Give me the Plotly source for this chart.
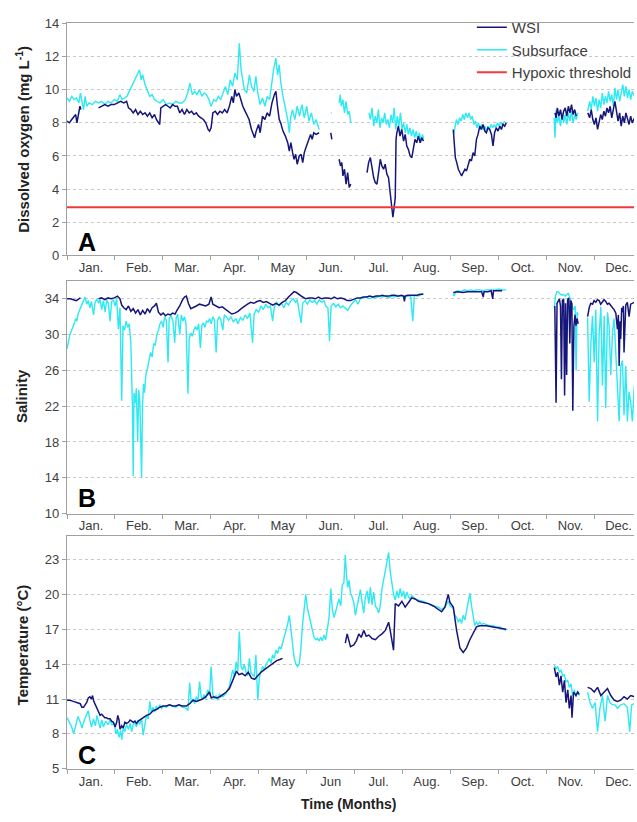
import plotly.graph_objects as go

# ---------------- data (day of year, value); None = gap in record ----------------
MONTHS_A = ["Jan.", "Feb.", "Mar.", "Apr.", "May", "Jun.", "Jul.", "Aug.", "Sep.", "Oct.", "Nov.", "Dec."]
MONTHS_B = ["Jan.", "Feb.", "Mar.", "Apr.", "May", "Jun.", "Jul.", "Aug.", "Sep.", "Oct.", "Nov.", "Dec."]
MONTHS_C = ["Jan.", "Feb.", "Mar.", "Apr.", "May", "Jun", "Jul.", "Aug.", "Sep.", "Oct.", "Nov.", "Dec."]
HYPOXIC = 2.9

DO_SUB = [
    (0, 9.5), (1.5, 9.3), (3, 9.6), (4.5, 9.4), (6, 9.5), (7.5, 9.2), (8.5, 9.8), (9.5, 9.3), (10.5, 8.8),
    (11.5, 9.6), (12.5, 9.0), (14, 9.2), (16, 9.1), (18, 9.3), (20, 9.2), (22, 9.3), (24, 9.1), (26, 9.3),
    (28, 9.2), (30, 9.4), (32, 9.3), (33.5, 9.7), (35, 9.4), (36.5, 9.5), (38, 9.6), (39.5, 9.9), (41, 10.2),
    (42.5, 10.5), (44, 10.7), (45, 10.9), (46, 11.2), (47, 10.6), (48, 10.9), (49.5, 10.3), (51, 10.0),
    (52.5, 9.6), (54, 9.7), (55.5, 9.4), (57, 9.3), (59, 9.2), (61, 9.4), (63, 9.1), (65, 9.2), (67, 9.1),
    (69, 9.3), (71, 9.2), (73, 9.2), (75, 9.4), (76.5, 9.8), (78, 10.4), (79.5, 9.7), (81, 9.9), (82.5, 9.7),
    (84, 10.0), (85.5, 9.6), (87, 9.8), (88.5, 9.7), (90, 9.4), (91.4, 9.0), (93, 9.4), (94.5, 9.3),
    (96, 9.6), (97.5, 9.4), (99, 9.8), (100.5, 10.2), (102, 9.7), (103.5, 10.6), (105, 10.2), (106.5, 11.0),
    (108, 10.6), (109.3, 12.8), (110.4, 11.2), (111.5, 10.4), (112.5, 10.0), (114, 9.8), (115.7, 10.9),
    (117, 10.2), (118.5, 9.9), (119.8, 10.8), (121, 9.8), (122.5, 9.1), (124, 9.5), (125.5, 9.0),
    (127, 9.6), (128.5, 9.4), (130, 10.5), (131, 11.2), (132.5, 11.9), (133.5, 10.9), (134.6, 11.5),
    (135.5, 10.5), (137, 9.6), (138.5, 8.8), (140, 8.2), (141, 7.4), (142, 8.4), (143, 8.8), (144.5, 8.2),
    (146, 9.0), (147.5, 8.4), (149, 9.1), (150.5, 8.3), (152, 9.0), (153.5, 8.1), (155, 8.6), (156.5, 7.9),
    (158, 8.2), (159.9, 7.6),
    (163, None),
    (167.3, 8.6), (167.9, 8.6),
    (170, None),
    (172.6, 9.2), (173.3, 9.7), (174, 9.0), (175, 9.4), (176, 8.6), (177, 9.3), (178, 8.5), (179, 8.7), (180, 8.0),
    (185, None),
    (191.5, 8.6), (192.5, 8.2), (193.5, 8.9), (194.5, 7.8), (195.5, 8.4), (196.5, 8.0), (197.5, 8.8),
    (198.5, 7.7), (199.5, 8.3), (200.5, 8.0), (201.5, 8.6), (202.5, 7.9), (203.5, 8.2), (204.5, 7.7),
    (205.5, 8.5), (206.5, 8.0), (207.5, 8.9), (208.5, 7.6), (209.5, 8.4), (210.5, 7.8), (211.5, 8.6),
    (212.5, 7.6), (213.5, 8.0), (214.5, 7.4), (215.5, 7.9), (216.5, 7.3), (217.5, 7.7), (218.5, 7.2),
    (219.5, 7.6), (220.5, 7.1), (221.5, 7.5), (222.5, 7.0), (223.5, 7.4), (224.5, 6.9), (225.5, 7.3), (226.2, 7.0),
    (235, None),
    (245.2, 7.3), (246, 7.8), (247, 8.2), (248, 7.9), (249, 8.3), (250, 8.1), (251, 8.5), (252, 8.2),
    (253, 8.6), (254, 8.3), (255, 8.6), (256, 8.2), (257, 8.4), (258, 7.9), (259, 8.1), (260, 7.7),
    (261, 8.0), (262, 7.6), (263, 7.9), (264, 7.6), (265, 7.8), (266, 7.5), (267, 7.8), (268, 7.6),
    (269, 7.9), (270, 7.7), (271, 7.9), (272, 7.7), (273, 8.0), (274, 7.8), (275, 8.0), (276, 7.9), (277.8, 8.1),
    (290, None),
    (309, 8.3), (309.5, 7.1), (310.2, 8.8), (311, 8.0), (312, 8.4), (313, 7.8), (314, 8.6), (315, 8.0),
    (316, 8.5), (317, 7.9), (318, 8.6), (319, 8.1), (320, 8.7), (321, 8.0), (322, 8.5), (323, 8.2), (324, 8.6),
    (327, None),
    (330.3, 8.7), (331.5, 9.3), (332.5, 8.8), (333.5, 9.6), (334.5, 9.0), (335.5, 9.5), (336.5, 8.7),
    (337.5, 9.4), (338.5, 8.9), (339.5, 9.8), (340.5, 9.1), (341.5, 9.6), (342.5, 9.2), (343.5, 9.9),
    (344.5, 9.3), (345.5, 9.7), (346.5, 9.0), (347.5, 10.1), (348.5, 9.4), (349.5, 10.0), (350.5, 9.3),
    (351.5, 9.8), (352.5, 10.3), (353.5, 9.6), (354.5, 10.2), (355.5, 9.5), (356.5, 10.0), (357.5, 9.4),
    (358.5, 9.9), (360, 9.6),
]

DO_WSI = [
    (0, 8.1), (1.5, 8.0), (3, 8.2), (4.5, 8.4), (5.5, 8.5), (6.3, 8.0), (7.2, 8.6), (8.2, 9.0), (8.8, 8.8),
    (14, None),
    (20, 8.9), (22, 9.0), (24, 9.1), (26, 9.0), (28, 9.1), (30, 9.1), (32, 9.2), (34, 9.3), (36, 9.2),
    (37.8, 9.3), (39, 8.9), (40.5, 8.8), (42, 8.6), (43.5, 8.8), (45, 8.5), (46.5, 8.7), (48, 8.5),
    (49.5, 8.6), (51, 8.4), (52.5, 8.6), (54, 8.3), (55.5, 8.5), (56.7, 8.2), (58, 8.0), (58.8, 7.9),
    (59.5, 8.9), (61, 9.0), (62.5, 9.1), (64, 9.0), (65.5, 8.9), (67, 9.1), (68.5, 9.0), (70, 9.0),
    (71.5, 8.6), (73, 8.8), (74.5, 8.5), (76, 8.8), (77.5, 8.6), (79, 8.7), (80.5, 8.5), (82, 8.6),
    (83.5, 8.4), (85, 8.3), (86.5, 8.2), (88, 8.0), (89.5, 7.6), (90.4, 7.5), (91.4, 7.7), (92.5, 8.6),
    (94, 8.7), (95.5, 8.5), (97, 8.7), (98.5, 8.6), (100, 8.8), (101.5, 8.6), (103, 9.0), (104.5, 9.6),
    (105.5, 9.2), (106.5, 10.0), (107.5, 9.6), (109, 9.8), (110.5, 9.3), (111.5, 9.0), (112.5, 8.8),
    (114, 8.5), (115.5, 8.2), (117, 7.6), (118, 7.4), (119, 7.1), (120, 7.5), (121.5, 7.9), (122.5, 7.4),
    (124, 8.4), (125.5, 8.2), (127, 8.6), (128.5, 8.4), (130, 9.2), (131.5, 9.7), (132.5, 9.9), (133.5, 9.0),
    (134.6, 8.2), (135.5, 8.0), (137, 7.5), (138.5, 7.2), (140, 6.8), (141, 6.3), (142, 6.8), (143.1, 6.2),
    (144, 5.8), (145, 6.1), (146, 5.5), (147.3, 6.0), (148.5, 6.1), (149.5, 5.6), (150.5, 6.2), (151.5, 6.5),
    (152.5, 6.8), (153.5, 7.1), (154.5, 7.3), (155.5, 7.0), (156.5, 7.4), (158, 7.3), (159.9, 7.4),
    (163, None),
    (167.3, 7.4), (168, 7.0),
    (170, None),
    (172.6, 5.8), (173.5, 5.4), (174.3, 5.6), (175, 4.8), (176, 5.2), (177, 4.3), (178, 5.0), (179, 4.1), (180, 4.3),
    (185, None),
    (190.3, 5.0), (191.3, 5.6), (192.4, 5.9), (193.4, 5.2), (194.5, 4.7), (195.5, 4.4), (196.6, 4.3),
    (197.6, 5.0), (198.7, 5.8), (199.7, 5.4), (200.8, 5.2), (201.8, 5.5), (202.9, 4.9), (203.9, 4.7),
    (205, 3.6), (206, 2.8), (206.7, 2.3), (207.5, 2.9), (208.2, 3.5), (208.7, 7.0), (209.2, 7.4),
    (210.2, 7.8), (211.2, 7.2), (212.3, 7.6), (213.5, 6.9), (214.5, 7.3), (215.5, 6.6), (216.5, 6.4),
    (217.6, 6.0), (218.7, 5.9), (219.7, 6.6), (220.7, 7.0), (221.8, 6.8), (222.9, 7.2), (224, 6.8),
    (225, 7.1), (226.1, 6.9),
    (235, None),
    (245, 7.6), (245.6, 6.6), (246.3, 5.9), (247.2, 5.6), (248.2, 5.2), (249.2, 5.0), (250.3, 4.8),
    (251.3, 5.0), (252.4, 5.2), (253.4, 5.1), (254.5, 5.5), (255.5, 5.8), (256.5, 5.7), (257.6, 6.2),
    (258.6, 6.0), (259.7, 7.0), (260.7, 7.3), (261.8, 7.8), (262.8, 7.6), (263.9, 7.9), (265, 7.5),
    (266, 7.4), (267, 7.7), (268.1, 7.6), (269.2, 7.3), (270.2, 6.6), (271.2, 7.4), (272.3, 7.7),
    (273.4, 7.5), (274.5, 7.8), (275.5, 7.6), (276.5, 7.9), (277.6, 7.8), (278.6, 8.0),
    (290, None),
    (309.5, 8.6), (310.2, 8.3), (311, 8.9), (312, 8.4), (313, 8.8), (314, 8.2), (315, 8.7), (316, 8.9),
    (317, 8.4), (318, 9.0), (319, 8.6), (320, 9.1), (321, 8.5), (322, 8.8), (323, 8.4),
    (327, None),
    (330.3, 8.6), (331.5, 8.3), (332.5, 8.8), (333.5, 8.2), (334.5, 7.9), (335.5, 8.3), (336.5, 7.6),
    (337.5, 8.0), (338.5, 8.5), (339.5, 8.2), (340.5, 8.7), (341.5, 8.4), (342.5, 8.9), (343.5, 8.6),
    (344.5, 9.0), (345.5, 8.3), (346.5, 8.8), (347.5, 9.3), (348.5, 8.7), (349.5, 8.1), (350.5, 8.6),
    (351.5, 7.8), (352.5, 8.4), (353.5, 8.0), (354.5, 8.6), (355.5, 8.2), (356.5, 7.9), (357.5, 8.4),
    (358.5, 8.0), (360, 8.3),
]

SAL_SUB = [
    (0, 28.4), (0.8, 29.3), (1.6, 29.8), (2.5, 30.3), (3.5, 30.7), (4.5, 31.2), (5.5, 31.8), (6.3, 31.5),
    (7, 32.3), (8, 32.8), (9, 33.1), (10, 33.6), (11.5, 34.2), (12.5, 33.4), (13.5, 33.8), (14.5, 33.0),
    (15.5, 33.7), (16.8, 32.2), (17.8, 33.6), (19, 34.0), (20, 33.5), (21, 33.9), (22, 32.8), (23.1, 33.8),
    (24.2, 32.5), (25.2, 33.9), (26.2, 33.5), (27.3, 31.5), (28.3, 33.7), (29.4, 33.9), (30.5, 33.2),
    (31.5, 34.0), (32.6, 30.6), (33.6, 33.0), (34.7, 22.6), (35.5, 31.0), (36.5, 30.5), (37.5, 31.5),
    (38.5, 30.8), (39.5, 31.2), (40.5, 29.0), (41, 26.0), (41.5, 22.0), (42, 14.2), (42.5, 23.5),
    (43.2, 22.3), (44, 24.0), (44.8, 18.0), (45.5, 23.8), (46.2, 22.5), (47.3, 14.0), (47.9, 22.0),
    (48.5, 24.5), (49.2, 23.5), (50, 25.5), (51, 26.2), (52, 27.3), (53, 28.0), (54, 27.5), (55, 29.0),
    (56, 28.8), (57, 30.0), (58, 30.5), (59, 31.2), (60, 31.5), (61, 30.8), (62, 32.0), (63, 31.6),
    (64.1, 26.9), (64.8, 31.8), (66, 32.1), (67.2, 31.5), (68.3, 29.1), (69.2, 31.8), (70.2, 32.3),
    (71.5, 30.0), (72.5, 32.2), (73.5, 31.5), (74.5, 32.0), (75.5, 31.2), (76.7, 23.4), (77.5, 29.5),
    (78.5, 30.2), (79.5, 29.8), (80.5, 30.5), (81.5, 30.9), (82.5, 30.5), (83.5, 31.2), (84.6, 28.5),
    (85.5, 31.0), (86.5, 31.3), (87.5, 30.8), (88.5, 31.5), (89.5, 31.4), (90.5, 31.8), (91.5, 31.2),
    (92.5, 32.0), (93.5, 31.6), (94.6, 28.0), (95.5, 31.6), (96.5, 32.0), (97.5, 31.7), (98.8, 30.5),
    (99.8, 32.2), (101, 32.0), (102.5, 31.6), (104, 32.0), (105.5, 31.4), (107, 31.8), (108.5, 31.2),
    (110, 31.9), (111.5, 31.6), (113, 32.2), (114.5, 31.8), (116, 32.4), (117.7, 29.1), (118.7, 32.3),
    (120, 32.8), (121.5, 32.5), (123, 33.2), (124.5, 32.8), (126, 33.4), (127.5, 33.0), (129, 33.2),
    (130.4, 31.5), (131.5, 33.1), (133, 33.6), (134.5, 33.2), (136, 33.5), (137.5, 33.0), (139, 33.6),
    (140.5, 33.3), (142, 33.8), (143.5, 34.0), (145, 33.6), (146, 33.9), (147.3, 32.5), (148.5, 31.3),
    (149.5, 33.5), (151, 33.8), (152.5, 33.4), (154, 33.9), (155.5, 33.6), (157, 33.8), (158.5, 33.4),
    (160, 33.9), (161.5, 33.6), (163, 33.8), (164.1, 33.2), (165.5, 33.0), (166.5, 29.3), (167.5, 33.2),
    (169, 33.5), (170.5, 33.1), (172, 33.4), (173.5, 33.0), (175, 33.2), (176.5, 32.9), (178, 32.7),
    (180, 33.3), (181.5, 33.6), (183, 33.9), (184.5, 33.4), (186, 34.0), (188, 34.1), (190, 34.2),
    (192, 34.0), (194, 34.2), (196, 34.1), (198, 34.3), (200, 34.2), (202, 34.3), (204, 34.1), (206, 34.3),
    (208, 34.2), (210, 34.4), (212, 34.3), (214, 34.2), (216, 34.3), (218, 34.3), (219.3, 31.5),
    (220.3, 34.4), (222, 34.3), (224, 34.4), (226, 34.6),
    (235, None),
    (245, 34.6), (245.5, 34.3), (246.5, 34.8), (248, 34.9), (250, 34.8), (252, 35.0), (254, 34.9),
    (256, 35.0), (258, 34.9), (260, 35.0), (262, 35.0), (264, 34.9), (266, 35.0), (268, 35.0), (270, 35.0),
    (272, 35.0), (274, 35.1), (276, 35.0), (278.6, 35.0),
    (290, None),
    (309.1, 33.0), (309.8, 34.3), (310.7, 34.8), (311.5, 34.8), (312.3, 34.6), (313.2, 34.5), (314, 34.4),
    (315, 34.5), (316, 34.3), (317, 34.5), (318, 34.6), (318.8, 34.2), (319.7, 33.5), (320.7, 33.0),
    (321.5, 32.8), (322.3, 33.2), (322.9, 26.0), (323.5, 32.5), (324.2, 32.2),
    (327, None),
    (330.2, 31.9), (331.2, 22.5), (332.3, 29.1), (333.3, 32.1), (334.4, 26.9), (335.4, 32.8), (336.5, 20.3),
    (337.5, 30.0), (338.6, 33.1), (339.6, 24.3), (340.7, 32.1), (341.7, 21.8), (342.8, 32.5), (343.8, 31.0),
    (344.9, 25.5), (346, 30.3), (347, 31.8), (348.1, 27.7), (349.1, 22.9), (350.2, 20.3), (351.2, 26.4),
    (352.3, 27.1), (353.3, 21.0), (354.4, 26.5), (355.4, 20.3), (356.5, 23.6), (357.5, 22.5), (358.6, 20.3),
    (359.8, 24.3),
]

SAL_WSI = [
    (0, 34.0), (2, 34.0), (4, 33.9), (6, 33.8), (7.5, 34.0), (8.5, 34.1),
    (14, None),
    (20, 34.0), (22, 34.1), (24, 33.9), (26, 34.1), (28, 34.0), (30, 34.1), (32, 34.3), (33.6, 34.0),
    (34.7, 33.3), (36, 33.0), (37.5, 32.8), (39, 33.2), (40.5, 32.6), (42, 32.9), (43.5, 32.4), (45, 32.8),
    (46.5, 32.2), (48, 32.7), (49.5, 32.3), (51, 32.9), (52.5, 32.5), (54, 33.0), (55.5, 33.2), (56.7, 33.5),
    (58, 32.5), (59.5, 32.2), (61, 32.4), (62.5, 32.1), (64, 32.3), (65.5, 32.2), (67, 32.4), (68.5, 32.3),
    (70, 32.8), (71.5, 33.2), (73, 33.8), (74.5, 34.2), (75.7, 34.3), (77, 33.5), (78.5, 32.9), (80, 33.0),
    (82, 33.2), (84, 33.4), (86, 33.3), (88, 33.2), (90, 33.4), (91.4, 34.2), (92.5, 33.4), (94.5, 33.2),
    (96.5, 33.0), (98.5, 33.1), (100.5, 32.8), (102.5, 32.5), (104.5, 32.3), (106.5, 32.4), (108.5, 32.6),
    (110.5, 32.9), (112.5, 33.2), (114.5, 33.4), (116.5, 33.6), (118.5, 33.5), (120.5, 33.7), (122.5, 33.8),
    (124.5, 33.6), (126.5, 33.7), (128.5, 33.5), (130.5, 33.3), (132.5, 33.5), (134.5, 33.3), (136.5, 33.6),
    (138.5, 33.8), (140.5, 34.2), (142.5, 34.6), (144, 34.8), (145.5, 34.7), (147.5, 34.4), (149.5, 34.2),
    (151.5, 34.0), (153.5, 34.1), (155.5, 34.1), (157.5, 34.0), (159.5, 34.2), (161.5, 34.0), (163.5, 34.1),
    (165.5, 34.1), (167.5, 34.0), (169.5, 34.2), (171.5, 34.0), (173.5, 34.1), (175.6, 34.0), (177.7, 33.8),
    (179.8, 33.8), (182, 34.0), (184, 34.1), (186, 34.1), (188, 34.2), (190, 34.2), (192, 34.3), (194, 34.2),
    (196, 34.3), (198, 34.3), (200, 34.4), (202, 34.3), (204, 34.3), (206, 34.4), (208, 34.4), (210, 34.3),
    (212, 34.4), (213.5, 34.3), (214, 33.7), (214.5, 34.3), (216, 34.4), (218, 34.4), (220, 34.4),
    (222, 34.4), (224, 34.5), (226, 34.5),
    (235, None),
    (245, 34.7), (248, 34.8), (251, 34.7), (254, 34.8), (257, 34.8), (260, 34.8), (263, 34.8), (264, 34.2),
    (264.5, 34.8), (267, 34.8), (269, 34.9), (270, 34.0), (270.5, 34.9), (273, 34.9), (276, 34.9),
    (290, None),
    (309.4, 33.2), (310.2, 22.4), (310.8, 33.5), (311.6, 33.9), (312.3, 34.0), (313, 33.2), (313.6, 25.0),
    (314.2, 33.8), (315, 34.0), (315.6, 23.2), (316.2, 33.5), (316.9, 25.5), (317.5, 33.9), (318.3, 34.1),
    (318.9, 29.0), (319.5, 33.8), (320.2, 33.5), (320.8, 21.5), (321.5, 31.0), (322.2, 32.2), (322.8, 31.0),
    (323.5, 31.8), (324.2, 31.2),
    (327, None),
    (330.2, 32.0), (331.2, 33.0), (332.2, 33.5), (333.3, 33.4), (334.3, 33.8), (335.4, 33.6), (336.4, 33.9),
    (337.5, 33.8), (338.5, 33.4), (339.6, 33.6), (340.6, 33.9), (341.7, 33.7), (342.7, 33.4), (343.8, 33.5),
    (344.9, 33.2), (346, 33.0), (347, 32.8), (348.1, 32.4), (349.1, 30.6), (349.7, 32.2), (350.2, 26.5),
    (350.8, 31.5), (351.2, 29.5), (351.8, 33.0), (352.3, 32.5), (352.9, 33.2), (353.3, 28.0), (353.9, 32.8),
    (354.4, 33.3), (355.4, 33.6), (356.5, 32.0), (357.5, 33.4), (358.6, 33.5), (359.8, 33.6),
]

TEMP_SUB = [
    (0, 9.4), (1.5, 9.0), (3, 8.6), (4.2, 8.0), (5.5, 8.8), (7, 9.5), (8.4, 9.0), (9.5, 8.5), (11, 9.2),
    (12.5, 9.6), (13.5, 10.0), (14.5, 9.2), (15.5, 8.6), (16.8, 9.3), (18, 8.7), (19, 9.6), (20, 9.0),
    (21, 8.5), (22, 9.2), (23.1, 8.6), (24.5, 9.1), (26, 8.8), (27.3, 9.2), (28.5, 8.8), (30, 8.9),
    (31, 8.0), (32, 8.4), (33, 7.7), (34, 8.3), (34.7, 7.5), (35.7, 8.5), (36.7, 8.2), (37.8, 8.8),
    (39, 8.4), (40, 8.9), (41, 8.2), (42, 8.8), (43, 9.0), (44.1, 8.6), (45, 9.2), (46, 8.8), (47.3, 9.3),
    (48.3, 7.9), (49.4, 9.0), (50.4, 9.6), (51.5, 9.3), (52.5, 10.8), (53.5, 9.9), (54.6, 10.3), (55.6, 9.9),
    (56.7, 10.4), (57.8, 10.1), (58.8, 10.5), (60, 10.2), (61, 10.4), (63, 10.3), (65, 10.5), (67, 10.4),
    (69, 10.3), (71, 10.5), (73, 10.3), (75.7, 10.2), (76.7, 10.0), (77.8, 12.4), (78.8, 10.7), (79.9, 11.0),
    (81, 10.6), (82, 11.2), (83, 10.8), (84.1, 12.5), (85.1, 11.2), (86, 11.0), (87, 11.4), (88, 11.0),
    (89.3, 11.8), (90.4, 11.3), (91.4, 13.8), (92.5, 11.4), (93.5, 11.0), (94.6, 11.3), (95.6, 10.9),
    (96.7, 11.4), (98.8, 11.2), (100.9, 11.5), (102, 11.9), (103, 12.1), (104, 12.8), (105.1, 13.5),
    (106.2, 12.9), (107.3, 14.2), (108.3, 13.4), (109.3, 16.8), (110.4, 13.8), (111.4, 13.5), (112.5, 14.0),
    (113.5, 13.3), (114.6, 13.0), (115.7, 14.5), (116.7, 13.2), (117.7, 13.1), (118.8, 12.9), (119.8, 14.8),
    (121, 10.9), (122, 12.8), (123, 13.4), (124.1, 13.8), (125.2, 13.5), (126.2, 14.0), (127.3, 14.2),
    (128.3, 14.5), (129.4, 14.1), (130.4, 14.8), (131.5, 14.5), (132.5, 15.2), (133.6, 14.9), (134.6, 15.5),
    (135.7, 15.3), (136.7, 15.8), (137.8, 16.4), (138.8, 17.0), (139.9, 17.4), (141, 18.2), (142, 16.8),
    (143.1, 15.6), (144.1, 14.5), (145.2, 14.0), (146.2, 13.8), (147.3, 14.0), (148.3, 15.3), (149.4, 17.4),
    (150.4, 19.0), (151.4, 20.0), (152.5, 18.8), (153.5, 18.2), (154.6, 17.5), (155.7, 16.7), (156.7, 16.3),
    (157.8, 16.1), (158.9, 16.2), (159.9, 16.0), (160.9, 16.3), (162, 16.0), (163, 16.5), (164.1, 16.1),
    (165.1, 17.2), (166.2, 18.0), (167.3, 20.5), (168.3, 18.7), (169.4, 18.0), (170.4, 18.5), (171.5, 19.0),
    (172.5, 19.6), (173.6, 19.0), (174.6, 20.8), (175.6, 21.0), (176.5, 23.4), (177.2, 21.8), (178, 20.6),
    (178.9, 21.2), (179.8, 20.1), (180.8, 19.8), (181.9, 19.3), (182.9, 18.2), (184, 18.9), (185.1, 19.8),
    (186.1, 20.4), (187.2, 19.3), (188.2, 18.4), (189.2, 19.7), (190.3, 20.3), (191.4, 19.2), (192.4, 20.6),
    (193.5, 19.1), (194.5, 20.2), (195.6, 19.0), (196.6, 18.8), (197.7, 18.4), (198.7, 19.0), (199.8, 20.5),
    (200.8, 21.3), (201.9, 22.2), (202.9, 23.0), (204, 23.6), (205, 22.0), (206.1, 20.8), (207.1, 20.0),
    (208.2, 19.5), (209.2, 20.3), (210.3, 19.7), (211.3, 20.5), (212.4, 19.8), (213.4, 20.3), (214.5, 19.6),
    (215.5, 20.2), (216.6, 19.8), (217.6, 19.6), (218.7, 19.9), (220.8, 19.6), (222.9, 19.5), (226.1, 19.4),
    (229.2, 19.2), (232.4, 19.0), (235.5, 18.9), (237.6, 18.7), (239.7, 18.9), (241.8, 19.4), (243, 19.0),
    (245, 18.8), (246, 18.2), (247.1, 18.0), (248.2, 17.6), (249.2, 17.9), (250.3, 17.5), (251.3, 18.2),
    (252.4, 17.8), (253.4, 18.6), (254.5, 19.2), (255.5, 20.1), (256.6, 19.0), (257.6, 18.0), (258.6, 17.3),
    (259.7, 17.6), (260.7, 17.4), (261.8, 17.6), (263, 17.4), (264, 17.5), (266, 17.4), (268, 17.3),
    (270.2, 17.3), (272, 17.2), (274.4, 17.2), (276.5, 17.0), (278.6, 16.9),
    (290, None),
    (309.1, 13.9), (310.2, 13.6), (311.2, 13.8), (312.3, 13.3), (313.3, 13.5), (314.4, 13.0), (315.5, 13.1),
    (316.5, 12.5), (317.6, 12.6), (318.6, 12.0), (319.7, 12.3), (320.7, 11.3), (321.8, 11.8), (322.8, 11.2),
    (323.9, 11.7), (324.9, 11.3),
    (327, None),
    (330.2, 11.6), (331.7, 10.7), (333.3, 10.2), (335, 10.7), (336.5, 8.2), (338, 10.2), (339.6, 11.3),
    (341.3, 9.1), (342.8, 11.3), (344.3, 10.7), (346, 10.5), (347.6, 10.5), (349.1, 10.2), (351.2, 10.5),
    (353.3, 10.6), (355.4, 10.3), (356.9, 8.2), (358.1, 10.5), (359.8, 10.6),
]

TEMP_WSI = [
    (0, 10.9), (2, 10.9), (4, 10.8), (6, 10.7), (8.4, 10.6), (9.4, 10.3), (10.5, 10.3), (11.5, 10.5),
    (12.5, 10.7), (13.5, 11.1), (14.5, 11.2), (15.5, 11.0), (16.2, 11.3), (17, 10.8), (18, 10.5), (19, 10.1),
    (20, 9.8), (21, 9.6), (22, 9.7), (23.1, 9.5), (24, 9.4), (25, 9.4), (26, 9.3), (27.3, 9.3), (28.3, 9.1),
    (29.4, 9.0), (30.5, 8.6), (31.5, 9.0), (32.2, 9.6), (33, 9.2), (33.6, 8.4), (34.7, 8.7), (35.7, 8.5),
    (36.7, 9.0), (37.8, 8.9), (39, 9.0), (40, 9.2), (41, 9.1), (42, 9.0), (43.1, 9.1), (44.1, 8.9),
    (45.2, 9.1), (46.2, 9.2), (47.3, 9.3), (48.3, 9.4), (50.4, 9.6), (52.5, 9.7), (54.6, 10.0), (56.7, 10.1),
    (58.8, 10.3), (61, 10.4), (63, 10.4), (65, 10.5), (67, 10.4), (69, 10.4), (71, 10.5), (73, 10.4),
    (75.7, 10.4), (77.8, 10.6), (80, 10.9), (82, 10.8), (84, 10.9), (86, 11.0), (88, 11.2), (90.4, 11.6),
    (91.5, 11.1), (93, 11.2), (95, 11.1), (97, 11.2), (99, 11.4), (101, 11.6), (103, 11.9), (105, 12.6),
    (106.5, 13.0), (107.5, 13.4), (109, 13.1), (111, 13.2), (113, 13.0), (115, 13.3), (117, 12.8),
    (119, 12.7), (121, 13.0), (123, 13.3), (125, 13.5), (127, 13.7), (129, 13.9), (131, 14.1), (133, 14.3),
    (135, 14.4), (136.7, 14.5),
    (150, None),
    (176.5, 15.8), (177.7, 16.6), (179.8, 15.5), (181.9, 15.65), (183.5, 16.0), (185.1, 16.6), (186.6, 16.3),
    (188.2, 16.9), (189.8, 16.4), (191.4, 16.5), (193.5, 16.2), (195.6, 16.1), (197.7, 16.4), (199.8, 16.6),
    (201.9, 16.9), (204, 17.6), (205, 16.9), (206.1, 16.0), (207.1, 15.2), (208.2, 19.2), (210.3, 19.0),
    (212.4, 19.4), (214.5, 18.9), (216.6, 19.3), (218.7, 19.7), (220.8, 19.6), (222.9, 19.4), (226.1, 19.3),
    (229.2, 19.2), (232.4, 19.0), (235.5, 18.7), (237.6, 18.5), (239.7, 18.9), (241.8, 20.0), (242.9, 19.3),
    (245, 18.9), (247.1, 16.9), (249.2, 15.4), (251.3, 15.0), (253.4, 15.4), (255.5, 16.1), (257.6, 16.6),
    (259.7, 17.2), (261.8, 17.3), (266, 17.3), (270.2, 17.2), (274.4, 17.1), (278.6, 17.0),
    (290, None),
    (309.1, 13.7), (310.2, 12.9), (311.2, 13.3), (312.3, 12.2), (313.3, 13.0), (314.4, 11.6), (315.5, 12.6),
    (316.5, 10.7), (317.6, 11.8), (318.6, 10.2), (319.7, 11.3), (320.3, 9.4), (321.3, 11.6), (322.8, 11.3),
    (323.9, 11.6), (324.9, 11.4),
    (327, None),
    (330.2, 12.0), (332.3, 11.9), (334.4, 11.6), (336.5, 12.0), (338.6, 11.3), (340.7, 11.6), (342.8, 11.9),
    (344.9, 11.3), (347, 10.9), (349.1, 10.8), (351.2, 10.9), (353.3, 11.2), (355.4, 11.0), (357.5, 11.3),
    (359.8, 11.2),
]

# ---------------- styling ----------------
NAVY = "#16167a"
CYAN = "#2ee8f2"
RED = "#f03a3a"
AXIS = "#a0a0a0"
GRID = "#c8c8c8"
TXT = "#404040"
FONT = "Liberation Sans, Arial, sans-serif"

W, H = 637, 822
LEFT = 67
XMAX = (W - LEFT) / 1.585  # ~359.6 days visible
MONTH_LEN = 365 / 12
month_starts = [i * MONTH_LEN for i in range(12)]
month_mids = [(i + 0.5) * MONTH_LEN for i in range(12)]


def split(series):
    return [p[0] for p in series], [p[1] for p in series]


fig = go.Figure()

panels = [
    ("x", "y", DO_SUB, DO_WSI, True),
    ("x2", "y2", SAL_SUB, SAL_WSI, False),
    ("x3", "y3", TEMP_SUB, TEMP_WSI, False),
]
for xa, ya, sub, wsi, show in panels:
    sx, sy = split(sub)
    wx, wy = split(wsi)
    fig.add_trace(go.Scatter(x=sx, y=sy, mode="lines", name="Subsurface", legendrank=2,
                             line=dict(color=CYAN, width=1.4), xaxis=xa, yaxis=ya,
                             showlegend=show, connectgaps=False, hoverinfo="skip"))
    fig.add_trace(go.Scatter(x=wx, y=wy, mode="lines", name="WSI", legendrank=1,
                             line=dict(color=NAVY, width=1.5), xaxis=xa, yaxis=ya,
                             showlegend=show, connectgaps=False, hoverinfo="skip"))

fig.add_trace(go.Scatter(x=[0, 366], y=[HYPOXIC, HYPOXIC], mode="lines", name="Hypoxic threshold",
                         legendrank=3, line=dict(color=RED, width=2), xaxis="x", yaxis="y",
                         hoverinfo="skip"))


def ydom(top_px, bot_px):
    return [1 - bot_px / H, 1 - top_px / H]


domains = [ydom(16.7, 253), ydom(279, 516), ydom(539, 776)]
yranges = [(0, 14, 0, 2), (10, 36, 10, 4), (5, 25, 5, 3)]
labels = [MONTHS_A, MONTHS_B, MONTHS_C]

layout = dict(
    width=W, height=H,
    margin=dict(l=LEFT, r=0, t=0, b=0),
    paper_bgcolor="white", plot_bgcolor="white",
    font=dict(family=FONT, size=13, color=TXT),
    showlegend=True,
    legend=dict(x=(474 - LEFT) / (W - LEFT), y=1 - 4 / H, xanchor="left", yanchor="top",
                bgcolor="rgba(0,0,0,0)", font=dict(size=15, color=TXT, family=FONT),
                itemwidth=30, tracegroupgap=0, traceorder="normal"),
)

for i in range(3):
    sfx = "" if i == 0 else str(i + 1)
    lo, hi, t0, dt = yranges[i]
    layout["xaxis" + sfx] = dict(
        domain=[0, 1], range=[0, XMAX], anchor="y" + sfx,
        tickmode="array", tickvals=month_mids, ticktext=labels[i], ticks="",
        tickfont=dict(size=13, color=TXT),
        showline=True, linecolor=AXIS, linewidth=1.2, mirror=True,
        showgrid=False, zeroline=False,
        minor=dict(tickmode="array", tickvals=month_starts, ticks="outside", ticklen=4,
                   tickcolor=AXIS, tickwidth=1, showgrid=False),
    )
    layout["yaxis" + sfx] = dict(
        domain=domains[i], range=[lo, hi], anchor="x" + sfx,
        tick0=t0, dtick=dt, ticks="outside", ticklen=4, tickcolor=AXIS,
        tickfont=dict(size=13, color=TXT),
        showline=True, linecolor=AXIS, linewidth=1.2,
        showgrid=True, gridcolor=GRID, griddash="dot", gridwidth=1,
        zeroline=False,
    )

fig.update_layout(**layout)


def px_x(px):
    return (px - LEFT) / (W - LEFT)


def px_y(py):
    return 1 - py / H


ann = []
for letter, py in [("A", 239), ("B", 500), ("C", 762)]:
    ann.append(dict(text=f"<b>{letter}</b>", x=px_x(87), y=px_y(py), xref="paper", yref="paper",
                    showarrow=False, xanchor="center", yanchor="middle",
                    font=dict(size=25, color="black", family=FONT)))
for title, py in [("Dissolved oxygen (mg L<sup>-1</sup>)", 135), ("Salinity", 396), ("Temperature (°C)", 650)]:
    ann.append(dict(text=f"<b>{title}</b>", x=px_x(22), y=px_y(py), xref="paper", yref="paper",
                    showarrow=False, xanchor="center", yanchor="middle", textangle=-90,
                    font=dict(size=15, color="#222222", family=FONT)))
ann.append(dict(text="<b>Time (Months)</b>", x=px_x(350), y=px_y(812), xref="paper", yref="paper",
                showarrow=False, xanchor="center", yanchor="middle",
                font=dict(size=14, color="#222222", family=FONT)))
fig.update_layout(annotations=ann)

fig.write_html("out.html")
